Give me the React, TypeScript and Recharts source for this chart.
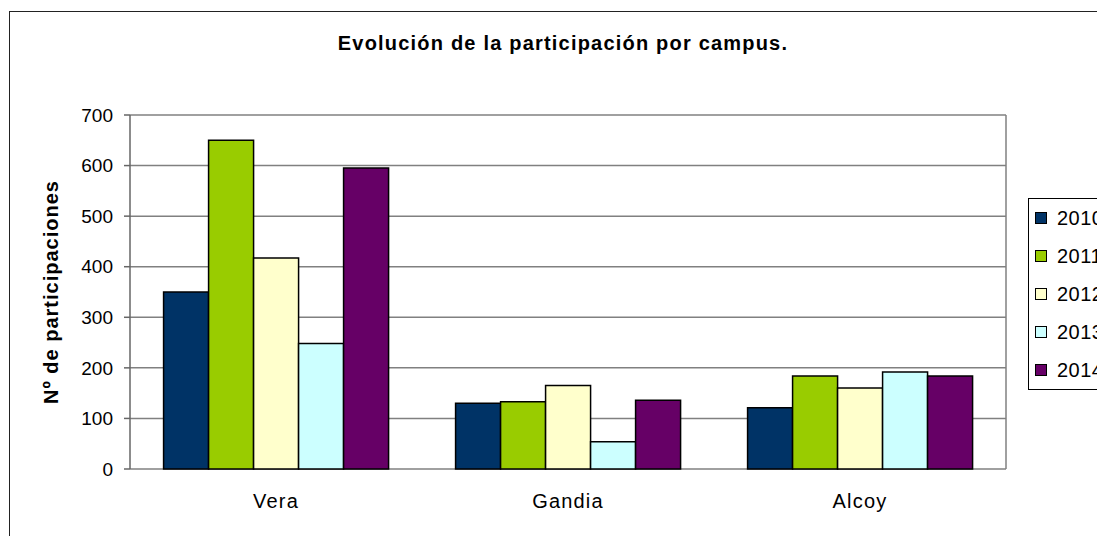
import React from 'react';
import { BarChart, Bar, XAxis, YAxis, CartesianGrid } from 'recharts';

const campuses = ['Vera', 'Gandia', 'Alcoy'];
const years = ['2010', '2011', '2012', '2013', '2014'];
const colors = ['#003366', '#99CC00', '#FFFFCC', '#CCFFFF', '#660066'];

const v2010 = [350, 130, 121];
const v2011 = [650, 133, 184];
const v2012 = [417, 165, 160];
const v2013 = [248, 54, 192];
const v2014 = [595, 136, 184];

const yTicks = [0, 100, 200, 300, 400, 500, 600, 700];

const series = [v2010, v2011, v2012, v2013, v2014];

const data = campuses.map((name, i) => {
  const row: Record<string, string | number> = { name, pos: i + 0.5 };
  years.forEach((y, k) => {
    row[y] = series[k][i];
  });
  return row;
});

const font = '"Liberation Sans", Arial, sans-serif';

// legend drawn as plain html so it doesn't eat into the plot area
function LegendBox() {
  return (
    <div
      style={{
        position: 'absolute',
        left: 1020,
        top: 190,
        border: '1px solid #000',
        width: 110,
        background: '#fff',
        fontFamily: font,
        fontSize: 20,
        color: '#000',
      }}
    >
      {years.map((y, k) => (
        <div key={y} style={{ height: 38, display: 'flex', alignItems: 'center' }}>
          <span
            style={{
              display: 'inline-block',
              width: 10,
              height: 10,
              marginLeft: 6,
              marginRight: 10,
              border: '1px solid #000',
              background: colors[k],
            }}
          />
          <span style={{ letterSpacing: 0.5 }}>{y}</span>
        </div>
      ))}
    </div>
  );
}

function YLabel() {
  return (
    <text
      x={50}
      y={284}
      transform="rotate(-90 50 284)"
      textAnchor="middle"
      fontFamily={font}
      fontSize={20}
      fontWeight="bold"
      letterSpacing={1}
      fill="#000"
    >
      Nº de participaciones
    </text>
  );
}

export default function App() {
  return (
    <div style={{ position: 'relative', width: 1097, height: 528, overflow: 'hidden', background: '#fff' }}>
      <div
        style={{
          position: 'absolute',
          left: 1,
          top: 3,
          width: 1300,
          height: 700,
          border: '1px solid #222',
        }}
      />
      <div
        style={{
          position: 'absolute',
          top: 25,
          left: 555 - 300,
          width: 600,
          textAlign: 'center',
          fontFamily: font,
          fontSize: 20,
          lineHeight: '20px',
          fontWeight: 'bold',
          letterSpacing: 1.2,
          color: '#000',
        }}
      >
        Evolución de la participación por campus.
      </div>
      <BarChart
        width={1097}
        height={528}
        data={data}
        margin={{ top: 107, right: 99, left: 0, bottom: 0 }}
        barCategoryGap="11.5%"
        barGap={0}
        style={{ position: 'absolute', left: 0, top: 0 }}
      >
        <CartesianGrid
          stroke="#808080"
          strokeWidth={1.5}
          verticalCoordinatesGenerator={({ offset }: any) => [offset.left + offset.width]}
        />
        <XAxis
          xAxisId="edge"
          dataKey="pos"
          type="number"
          domain={[0, 3]}
          ticks={[0, 1, 2, 3]}
          height={0}
          tickSize={6}
          tickFormatter={() => ''}
          stroke="#666"
          strokeWidth={1.5}
        />
        <XAxis
          dataKey="name"
          height={67}
          axisLine={false}
          tickLine={false}
          tickSize={0}
          tickMargin={25}
          tick={{ fontFamily: font, fontSize: 20, fill: '#000', letterSpacing: 1.2 }}
        />
        <YAxis
          width={122}
          domain={[0, 700]}
          ticks={yTicks}
          interval={0}
          tickSize={6}
          tickMargin={11}
          stroke="#666"
          strokeWidth={1.5}
          tick={{ fontFamily: font, fontSize: 19, fill: '#000' }}
          label={{ content: () => <YLabel /> }}
        />
        {years.map((y, k) => (
          <Bar
            key={y}
            dataKey={y}
            fill={colors[k]}
            stroke="#000"
            strokeWidth={1.5}
            isAnimationActive={false}
          />
        ))}
      </BarChart>
      <LegendBox />
    </div>
  );
}
